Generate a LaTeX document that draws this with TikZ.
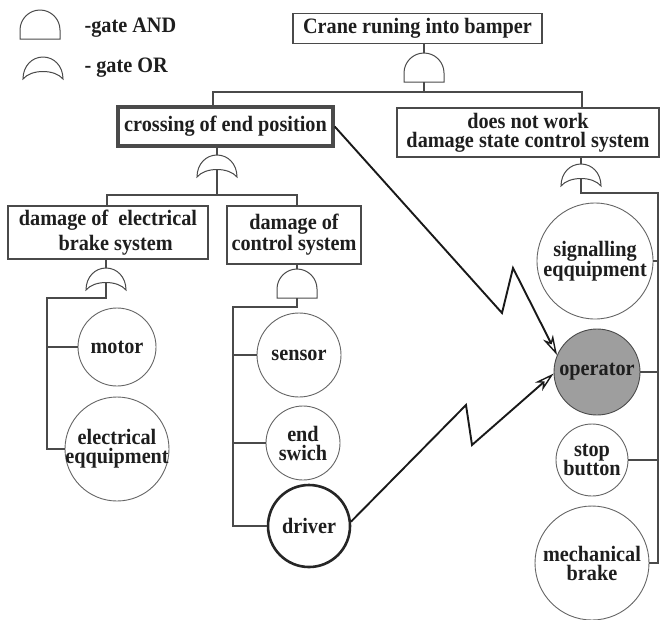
\documentclass[tikz,border=0pt]{standalone}
\usepackage{fontspec}
\setmainfont{Liberation Serif}[FakeStretch=0.92]
\usetikzlibrary{arrows.meta}
\setlength{\lineskiplimit}{-30pt}
\definecolor{ln}{HTML}{4A4A4A}
\definecolor{txt}{HTML}{1E1E1E}
\definecolor{opfill}{HTML}{9E9E9E}
\tikzset{
  lbl/.style={font=\fontsize{22}{19}\selectfont\bfseries, text=txt},
  evbox/.style={rectangle, draw=ln, line width=1.1pt, lbl, align=center, inner sep=0pt},
  basic/.style={circle, draw=ln!85, line width=0.9pt, lbl, align=center, inner sep=-14pt},
  tree/.style={draw=ln, line width=1.1pt},
  zig/.style={draw=black!90, line width=1.9pt, -{Stealth[open,length=20pt,width=11pt,inset=6pt,line width=1.4pt]}},
  gateline/.style={draw=ln, line width=1pt},
  pics/andgate/.style={code={
    \draw[gateline, fill=white] (-20,0) -- (-20,-9) .. controls (-20,-20) and (-11,-29) .. (0,-29)
      .. controls (11,-29) and (20,-20) .. (20,-9) -- (20,0) -- cycle;
    \coordinate (-t) at (0,-29); \coordinate (-b) at (0,0);}},
  pics/orgate/.style={code={
    \draw[gateline, fill=white] (-20,0) .. controls (-20,-13) and (-11,-22) .. (0,-22)
      .. controls (11,-22) and (20,-13) .. (20,0) .. controls (12,-10) and (-12,-10) .. cycle;
    \coordinate (-t) at (0,-22); \coordinate (-b) at (0,-7.5);}},
}
\begin{document}
\begin{tikzpicture}[x=1pt,y=-1pt]
\useasboundingbox (0,0) rectangle (660,619);

% legend
\pic (la) at (40,39) {andgate};
\node[lbl, anchor=base west] (lta) at (81,32) {-gate AND};
\pic (lo) at (43,79) {orgate};
\node[lbl, anchor=base west] (lto) at (81,72) {- gate OR};

% events
\node[evbox, minimum width=249pt, minimum height=30pt] (top) at (417.5,28.5) {Crane runing into bamper};
\node[evbox, line width=3.4pt, minimum width=215pt, minimum height=39pt] (crossing) at (225.5,126.5) {crossing of end position};
\node[evbox, minimum width=262pt, minimum height=49pt] (dnw) at (528,132.5) {does not work\\damage state control system};
\node[evbox, minimum width=200pt, minimum height=53pt, font=\fontsize{22}{25}\selectfont\bfseries] (elec) at (108,232.5) {damage of\ \ electrical\\\ \ \ brake system};
\node[evbox, minimum width=134pt, minimum height=58pt, font=\fontsize{22}{21}\selectfont\bfseries] (ctrl) at (294,235) {damage of\\control system};

% basic events
\node[basic, minimum size=78pt] (motor) at (117,347) {motor};
\node[basic, minimum size=104pt, font=\fontsize{22}{19}\selectfont\bfseries] (elecq) at (117,449) {electrical\\eqquipment};
\node[basic, minimum size=84pt] (sensor) at (299,355) {sensor};
\node[basic, minimum size=74pt, font=\fontsize{22}{19}\selectfont\bfseries] (endsw) at (303,443) {end\\swich};
\node[basic, minimum size=82pt, draw=black!85, line width=2.6pt] (driver) at (309,526) {driver};
\node[basic, minimum size=116pt, font=\fontsize{22}{20}\selectfont\bfseries] (signal) at (595,261) {signalling\\eqquipment};
\node[basic, minimum size=86pt, fill=opfill, draw=ln] (operator) at (597,372) {operator};
\node[basic, minimum size=72pt, font=\fontsize{22}{19}\selectfont\bfseries] (stop) at (592,460) {stop\\button};
\node[basic, minimum size=114pt, font=\fontsize{22}{19}\selectfont\bfseries] (mech) at (592,563) {mechanical\\brake};

% gates
\pic (g1) at (424,82) {andgate};
\pic (g2) at (217,177) {orgate};
\pic (g3) at (106,290) {orgate};
\pic (g4) at (297,298) {andgate};
\pic (g5) at (581,186) {orgate};

% junction coordinates
\coordinate (j1) at (424,92);
\coordinate (j1l) at (213,92);
\coordinate (j1r) at (582,92);
\coordinate (j2) at (217,195);
\coordinate (j2l) at (107,195);
\coordinate (j2r) at (297,195);
\coordinate (j3) at (106,298);
\coordinate (b3) at (47,298);
\coordinate (j4) at (297,307);
\coordinate (b4) at (233,307);
\coordinate (j5) at (581,193);
\coordinate (b5) at (658,193);

% tree connectors
\draw[tree] (top.south -| g1-t) -- (g1-t);
\draw[tree] (g1-b) -- (j1);
\draw[tree] (crossing.north -| j1l) |- (j1r) -- (dnw.north -| j1r);

\draw[tree] (crossing.south -| g2-t) -- (g2-t);
\draw[tree] (g2-b) -- (j2);
\draw[tree] (elec.north -| j2l) |- (j2r) -- (ctrl.north -| j2r);

\draw[tree] (elec.south -| g3-t) -- (g3-t);
\draw[tree] (g3-b) -- (j3) -- (b3) |- (elecq.west);
\draw[tree] (b3 |- motor.west) -- (motor.west);

\draw[tree] (ctrl.south -| g4-t) -- (g4-t);
\draw[tree] (g4-b) -- (j4) -- (b4) |- (driver.west);
\draw[tree] (b4 |- sensor.west) -- (sensor.west);
\draw[tree] (b4 |- endsw.west) -- (endsw.west);

\draw[tree] (dnw.south -| g5-t) -- (g5-t);
\draw[tree] (g5-b) -- (j5) -- (b5) |- (mech.east);
\draw[tree] (b5 |- signal.east) -- (signal.east);
\draw[tree] (b5 |- operator.east) -- (operator.east);
\draw[tree] (b5 |- stop.east) -- (stop.east);

% zigzag arrows
\coordinate (za1) at (502,313);
\coordinate (za2) at (513,268);
\draw[zig] (crossing.east) -- (za1) -- (za2) -- (operator.157);
\coordinate (zb1) at (466,405);
\coordinate (zb2) at (472,445);
\draw[zig] (driver.6) -- (zb1) -- (zb2) -- (operator.182);
\end{tikzpicture}
\end{document}
